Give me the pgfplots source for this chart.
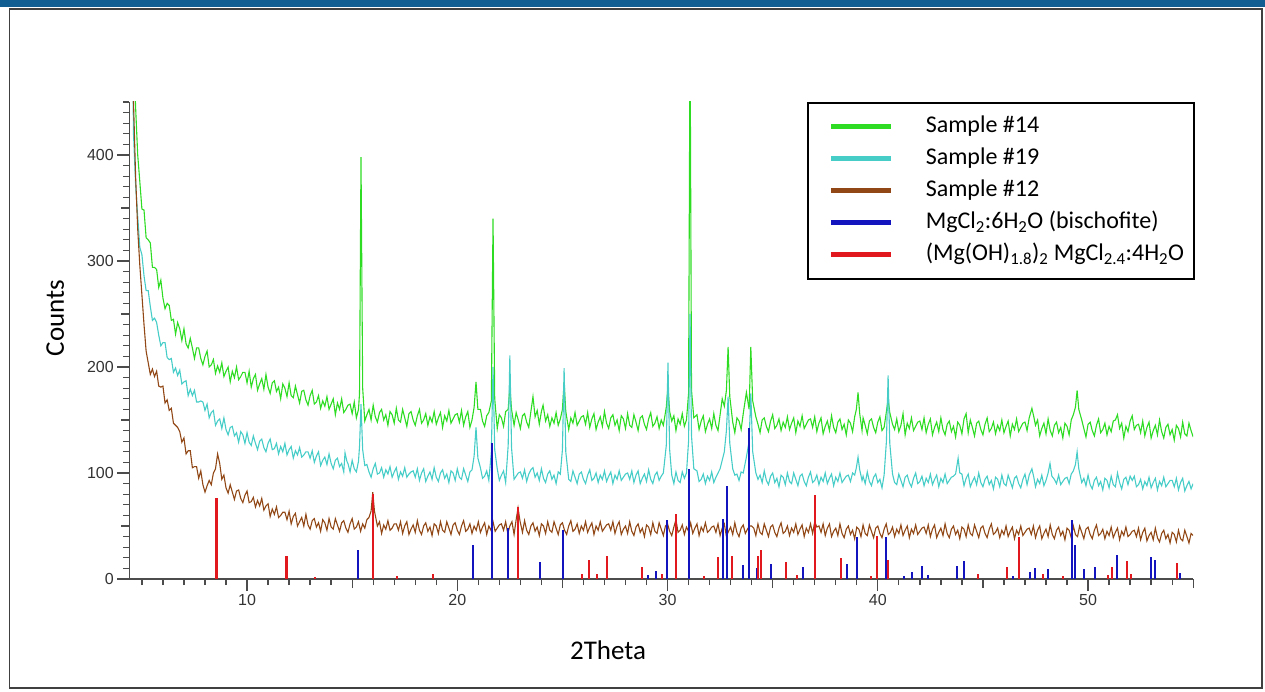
\documentclass[border=0pt]{standalone}
\usepackage{fontspec}
\setmainfont{Carlito}
\newfontfamily\tickfont{Liberation Sans}
\usepackage{pgfplots}
\pgfplotsset{compat=1.18}
\definecolor{cG}{RGB}{45,220,35}
\definecolor{cC}{RGB}{70,205,200}
\definecolor{cB}{RGB}{145,72,22}
\definecolor{cN}{RGB}{20,20,190}
\definecolor{cR}{RGB}{225,25,30}
\definecolor{band}{RGB}{16,94,146}
\begin{document}
\begin{tikzpicture}
\useasboundingbox (0pt,0pt) rectangle (1265pt,691pt);
\fill[band] (0pt,684pt) rectangle (1265pt,691pt);
\draw[black!75, line width=1.3pt] (9.5pt,3pt) rectangle (1262pt,682pt);
\begin{axis}[
  at={(129.3pt,112pt)}, anchor=south west,
  scale only axis, width=1063.9pt, height=477pt,
  xmin=4.4, xmax=55, ymin=0, ymax=450,
  axis x line*=bottom, axis y line*=left,
  axis line style={-, line width=1.5pt, draw=black!70},
  every tick/.style={black!70, line width=1.3pt},
  tick align=outside, major tick length=12pt, minor tick length=6pt,
  xtick={10,20,30,40,50}, ytick={0,100,200,300,400},
  minor xtick={5,6,...,55}, minor ytick={0,10,...,450},
  extra x ticks={15,25,35,45,55}, extra x tick labels={},
  extra x tick style={major tick length=9pt},
  extra y ticks={50,150,250,350}, extra y tick labels={},
  extra y tick style={major tick length=8pt},
  /pgf/number format/assume math mode=true,
  tick label style={font=\tickfont\fontsize{16}{18}\selectfont, text=black!80},
  xlabel={2Theta}, ylabel={Counts},
  every axis x label/.style={at={(rel axis cs:0.45,0)}, anchor=center, yshift=-71pt, font=\fontsize{27}{30}\selectfont},
  every axis y label/.style={at={(rel axis cs:0,0.547)}, xshift=-74pt, rotate=90, anchor=center, font=\fontsize{27}{30}\selectfont},
  legend cell align=left,
  legend style={at={(rel axis cs:0.637,1)}, anchor=north west, draw=black, line width=1.6pt,
    inner xsep=10pt, inner ysep=13pt, row sep=10pt, font=\fontsize{24}{27}\selectfont,
    nodes={inner sep=0pt, text height=17pt, text depth=5pt}},
  legend image code/.code={\path[draw=none] (-13pt,0pt) -- (95pt,0pt); \draw[#1, line width=5pt] (0pt,0pt) -- (60pt,0pt);},
]
% Sample #14
\addplot[cG, line width=1.1pt, mark=none] coordinates {
(4.5,700)(4.6,500)(4.7,445)(4.8,400)(4.9,375)(5.0,349)(5.1,348)(5.2,322)(5.3,320)(5.4,317)
(5.5,294)(5.6,294)(5.7,292)(5.8,275)(5.9,282)(6.0,265)(6.1,255)(6.2,260)(6.3,258)(6.4,244)
(6.5,245)(6.6,231)(6.7,242)(6.8,236)(6.9,225)(7.0,236)(7.1,222)(7.2,218)(7.3,227)(7.4,218)
(7.5,208)(7.6,218)(7.7,218)(7.8,208)(7.9,202)(8.0,210)(8.1,215)(8.2,200)(8.3,202)(8.4,207)
(8.5,194)(8.6,201)(8.7,195)(8.8,204)(8.9,191)(9.0,196)(9.1,200)(9.2,186)(9.3,196)(9.4,190)
(9.5,200)(9.6,188)(9.7,191)(9.8,195)(9.9,195)(10.0,185)(10.1,196)(10.2,181)(10.3,189)(10.4,193)
(10.5,178)(10.6,184)(10.7,189)(10.8,179)(10.9,193)(11.0,181)(11.1,175)(11.2,185)(11.3,187)(11.4,177)
(11.5,181)(11.6,170)(11.7,184)(11.8,180)(11.9,172)(12.0,185)(12.1,173)(12.2,171)(12.3,182)(12.4,174)
(12.5,166)(12.6,177)(12.7,178)(12.8,169)(12.9,164)(13.0,173)(13.1,178)(13.2,165)(13.3,167)(13.4,173)
(13.5,161)(13.6,168)(13.7,163)(13.8,172)(13.9,160)(14.0,165)(14.1,170)(14.2,155)(14.3,166)(14.4,160)
(14.5,170)(14.6,157)(14.7,160)(14.8,164)(14.9,165)(15.0,156)(15.1,167)(15.2,152)(15.3,160)(15.35,175)
(15.42,398)(15.5,180)(15.6,149)(15.7,155)(15.8,160)(15.9,150)(16.0,164)(16.1,153)(16.2,148)(16.3,157)
(16.4,160)(16.5,150)(16.6,155)(16.7,145)(16.8,158)(16.9,155)(17.0,147)(17.1,161)(17.2,150)(17.3,148)
(17.4,160)(17.5,152)(17.6,144)(17.7,156)(17.8,158)(17.9,150)(18.0,145)(18.1,154)(18.2,160)(18.3,147)
(18.4,150)(18.5,156)(18.6,145)(18.7,153)(18.8,148)(18.9,158)(19.0,146)(19.1,152)(19.2,157)(19.3,143)
(19.4,154)(19.5,149)(19.6,159)(19.7,147)(19.8,151)(19.9,155)(20.0,156)(20.1,148)(20.2,159)(20.3,145)
(20.4,153)(20.5,158)(20.6,143)(20.7,150)(20.8,162)(20.89,186)(20.98,160)(21.1,160)(21.2,149)(21.3,144)
(21.4,154)(21.5,157)(21.62,168)(21.70,340)(21.78,170)(21.9,142)(22.0,155)(22.1,152)(22.2,144)(22.3,158)
(22.42,160)(22.5,182)(22.58,160)(22.7,145)(22.8,157)(22.9,150)(23.0,142)(23.1,154)(23.2,156)(23.3,148)
(23.4,143)(23.5,158)(23.6,172)(23.7,153)(23.8,159)(23.9,146)(24.0,158)(24.08,164)(24.2,149)(24.3,155)
(24.4,144)(24.5,152)(24.6,147)(24.7,157)(24.8,145)(24.9,151)(25.0,160)(25.08,186)(25.16,158)(25.3,141)
(25.4,152)(25.5,147)(25.6,157)(25.7,145)(25.8,149)(25.9,153)(26.0,154)(26.1,146)(26.2,157)(26.3,143)
(26.4,151)(26.5,156)(26.6,141)(26.7,148)(26.8,153)(26.9,144)(27.0,158)(27.1,147)(27.2,142)(27.3,152)
(27.4,155)(27.5,145)(27.6,150)(27.7,140)(27.8,154)(27.9,151)(28.0,142)(28.1,156)(28.2,145)(28.3,143)
(28.4,155)(28.5,148)(28.6,140)(28.7,152)(28.8,154)(28.9,146)(29.0,141)(29.1,151)(29.2,157)(29.3,144)
(29.4,147)(29.5,153)(29.6,142)(29.7,150)(29.8,145)(29.94,162)(30.02,182)(30.1,158)(30.2,149)(30.3,154)
(30.4,140)(30.5,151)(30.6,146)(30.7,156)(30.8,144)(30.9,150)(31.0,175)(31.07,520)(31.14,178)(31.25,152)
(31.4,155)(31.5,141)(31.6,149)(31.7,154)(31.8,139)(31.9,146)(32.0,151)(32.1,142)(32.2,156)(32.3,145)
(32.4,140)(32.5,155)(32.6,170)(32.7,163)(32.8,178)(32.88,219)(32.96,172)(33.1,148)(33.2,138)(33.3,152)
(33.4,149)(33.5,141)(33.6,156)(33.75,176)(33.88,160)(33.96,219)(34.05,168)(34.2,153)(34.3,146)(34.4,138)
(34.5,150)(34.6,152)(34.7,144)(34.8,139)(34.9,149)(35.0,155)(35.1,142)(35.2,145)(35.3,151)(35.4,140)
(35.5,148)(35.6,143)(35.7,153)(35.8,141)(35.9,147)(36.0,152)(36.1,138)(36.2,149)(36.3,144)(36.4,154)
(36.5,142)(36.6,146)(36.7,150)(36.8,151)(36.9,143)(37.0,153)(37.1,139)(37.2,147)(37.3,152)(37.4,137)
(37.5,144)(37.6,149)(37.7,140)(37.8,154)(37.9,143)(38.0,138)(38.1,148)(38.2,151)(38.3,141)(38.4,146)
(38.5,136)(38.6,150)(38.7,147)(38.8,139)(38.9,153)(38.98,160)(39.06,176)(39.14,156)(39.25,140)(39.3,152)
(39.4,145)(39.5,137)(39.6,149)(39.7,151)(39.8,143)(39.9,138)(40.0,148)(40.1,153)(40.2,140)(40.3,143)
(40.41,158)(40.49,170)(40.57,157)(40.7,146)(40.8,141)(40.9,151)(41.0,139)(41.1,145)(41.2,156)(41.3,136)
(41.4,147)(41.5,142)(41.6,152)(41.7,140)(41.8,144)(41.9,148)(42.0,149)(42.1,141)(42.2,152)(42.3,138)
(42.4,146)(42.5,151)(42.6,136)(42.7,143)(42.8,148)(42.9,139)(43.0,152)(43.1,141)(43.2,136)(43.3,146)
(43.4,149)(43.5,139)(43.6,144)(43.7,134)(43.8,148)(43.9,145)(44.0,137)(44.1,151)(44.2,156)(44.3,138)
(44.4,150)(44.5,143)(44.6,135)(44.7,147)(44.8,149)(44.9,141)(45.0,136)(45.1,146)(45.2,152)(45.3,139)
(45.4,142)(45.5,148)(45.6,137)(45.7,145)(45.8,140)(45.9,150)(46.0,138)(46.1,144)(46.2,149)(46.3,135)
(46.4,146)(46.5,141)(46.6,151)(46.7,139)(46.8,143)(46.9,147)(47.0,148)(47.1,140)(47.2,152)(47.33,161)
(47.42,153)(47.5,145)(47.6,150)(47.7,135)(47.8,142)(47.9,147)(48.0,137)(48.1,151)(48.2,140)(48.3,135)
(48.4,145)(48.5,148)(48.6,138)(48.7,143)(48.8,133)(48.9,147)(49.0,144)(49.1,136)(49.2,150)(49.3,155)
(49.4,162)(49.48,178)(49.56,160)(49.7,150)(49.8,142)(49.9,134)(50.0,146)(50.1,148)(50.2,140)(50.3,135)
(50.4,145)(50.5,151)(50.6,138)(50.7,141)(50.8,147)(50.9,136)(51.0,144)(51.1,139)(51.2,149)(51.3,150)
(51.4,155)(51.5,142)(51.6,147)(51.7,133)(51.8,144)(51.9,139)(52.0,149)(52.1,154)(52.2,141)(52.3,145)
(52.4,146)(52.5,138)(52.6,149)(52.7,135)(52.8,143)(52.9,148)(53.0,133)(53.1,140)(53.2,145)(53.3,136)
(53.4,150)(53.5,139)(53.6,133)(53.7,143)(53.8,146)(53.9,136)(54.0,141)(54.1,131)(54.2,145)(54.3,142)
(54.4,134)(54.5,148)(54.6,137)(54.7,135)(54.8,147)(54.9,140)(55.0,134)
};
\addlegendentry{Sample \#14}
% Sample #19
\addplot[cC, line width=1.1pt, mark=none] coordinates {
(4.5,600)(4.6,420)(4.7,372)(4.8,342)(4.9,313)(5.0,306)(5.1,286)(5.2,272)(5.3,272)(5.4,257)
(5.5,244)(5.6,246)(5.7,242)(5.8,230)(5.9,220)(6.0,223)(6.1,223)(6.2,209)(6.3,207)(6.4,208)
(6.5,195)(6.6,199)(6.7,192)(6.8,197)(6.9,184)(7.0,186)(7.1,187)(7.2,173)(7.3,179)(7.4,173)
(7.5,178)(7.6,167)(7.7,167)(7.8,168)(7.9,167)(8.0,159)(8.1,165)(8.2,152)(8.3,157)(8.4,159)
(8.5,145)(8.6,149)(8.7,151)(8.8,142)(8.9,152)(9.0,141)(9.1,136)(9.2,143)(9.3,144)(9.4,135)
(9.5,138)(9.6,129)(9.7,139)(9.8,136)(9.9,128)(10.0,138)(10.1,129)(10.2,126)(10.3,135)(10.4,128)
(10.5,122)(10.6,130)(10.7,132)(10.8,124)(10.9,120)(11.0,128)(11.1,132)(11.2,122)(11.3,123)(11.4,128)
(11.5,118)(11.6,125)(11.7,120)(11.8,128)(11.9,117)(12.0,122)(12.1,125)(12.2,114)(12.3,121)(12.4,117)
(12.5,124)(12.6,115)(12.7,117)(12.8,120)(12.9,120)(13.0,114)(13.1,121)(13.2,110)(13.3,116)(13.4,120)
(13.5,107)(13.6,112)(13.7,115)(13.8,108)(13.9,118)(14.0,109)(14.1,104)(14.2,112)(14.3,114)(14.4,106)
(14.5,109)(14.6,101)(14.66,119)(14.75,111)(14.8,109)(14.9,101)(15.0,112)(15.1,104)(15.2,101)(15.3,111)
(15.35,125)(15.42,165)(15.5,122)(15.6,107)(15.7,108)(15.8,101)(15.9,96)(16.0,104)(16.1,109)(16.2,99)
(16.3,100)(16.4,105)(16.5,96)(16.6,103)(16.7,99)(16.8,106)(16.9,96)(17.0,101)(17.1,105)(17.2,94)
(17.3,101)(17.4,97)(17.5,105)(17.6,96)(17.7,99)(17.8,101)(17.9,102)(18.0,96)(18.1,104)(18.2,93)
(18.3,100)(18.4,104)(18.5,92)(18.6,97)(18.7,101)(18.8,94)(18.9,105)(19.0,96)(19.1,92)(19.2,100)
(19.3,103)(19.4,95)(19.5,99)(19.6,91)(19.7,102)(19.8,100)(19.9,93)(20.0,104)(20.1,96)(20.2,94)
(20.3,104)(20.4,98)(20.5,92)(20.6,101)(20.7,103)(20.8,116)(20.89,143)(20.98,114)(21.1,105)(21.2,95)
(21.3,97)(21.4,102)(21.5,93)(21.62,120)(21.70,200)(21.78,122)(21.9,104)(22.0,93)(22.1,98)(22.2,102)
(22.3,91)(22.42,126)(22.5,211)(22.58,124)(22.7,94)(22.8,97)(22.9,100)(23.0,101)(23.1,95)(23.2,103)
(23.3,92)(23.4,99)(23.5,103)(23.6,105)(23.7,96)(23.8,100)(23.9,93)(24.0,104)(24.1,95)(24.2,91)
(24.3,99)(24.4,102)(24.5,94)(24.6,98)(24.7,90)(24.8,101)(24.9,99)(25.0,122)(25.08,199)(25.16,120)
(25.3,94)(25.4,92)(25.5,102)(25.6,96)(25.7,90)(25.8,99)(25.9,101)(26.0,94)(26.1,90)(26.2,98)
(26.3,103)(26.4,93)(26.5,95)(26.6,100)(26.7,91)(26.8,98)(26.9,94)(27.0,102)(27.1,92)(27.2,97)
(27.3,101)(27.4,90)(27.5,98)(27.6,94)(27.7,102)(27.8,93)(27.9,96)(28.0,99)(28.1,100)(28.2,94)
(28.3,102)(28.4,91)(28.5,98)(28.6,102)(28.7,90)(28.8,95)(28.9,99)(29.0,92)(29.1,103)(29.2,94)
(29.3,90)(29.4,98)(29.5,101)(29.6,93)(29.7,97)(29.8,100)(29.94,126)(30.02,204)(30.1,122)(30.2,98)
(30.3,90)(30.4,101)(30.5,93)(30.6,91)(30.7,101)(30.8,95)(30.9,100)(31.0,130)(31.07,250)(31.14,135)
(31.25,104)(31.4,102)(31.5,92)(31.6,94)(31.7,99)(31.8,90)(31.9,97)(32.0,93)(32.1,101)(32.2,91)
(32.3,96)(32.4,100)(32.5,104)(32.6,112)(32.7,120)(32.8,140)(32.88,172)(32.96,128)(33.1,104)(33.2,98)
(33.3,99)(33.4,93)(33.5,101)(33.6,100)(33.75,115)(33.88,130)(33.96,175)(34.05,120)(34.2,100)(34.3,94)
(34.4,98)(34.5,91)(34.6,102)(34.7,93)(34.8,89)(34.9,97)(35.0,100)(35.1,91)(35.2,95)(35.3,87)
(35.4,98)(35.5,96)(35.6,89)(35.7,100)(35.8,92)(35.9,90)(36.0,100)(36.1,94)(36.2,88)(36.3,97)
(36.4,99)(36.5,92)(36.6,88)(36.7,96)(36.8,101)(36.9,91)(37.0,93)(37.1,98)(37.2,89)(37.3,96)
(37.4,92)(37.5,100)(37.6,90)(37.7,95)(37.8,99)(37.9,88)(38.0,96)(38.1,92)(38.2,100)(38.3,91)
(38.4,94)(38.5,97)(38.6,98)(38.7,92)(38.8,100)(38.9,98)(38.98,105)(39.06,115)(39.14,103)(39.25,93)
(39.3,97)(39.4,90)(39.5,101)(39.6,92)(39.7,88)(39.8,96)(39.9,99)(40.0,91)(40.1,94)(40.2,86)
(40.3,98)(40.41,130)(40.49,192)(40.57,128)(40.7,99)(40.8,91)(40.9,89)(41.0,99)(41.1,93)(41.2,87)
(41.3,96)(41.4,98)(41.5,91)(41.6,87)(41.7,95)(41.8,100)(41.9,90)(42.0,92)(42.1,97)(42.2,88)
(42.3,95)(42.4,91)(42.5,99)(42.6,89)(42.7,94)(42.8,98)(42.9,87)(43.0,95)(43.1,91)(43.2,99)
(43.3,90)(43.4,93)(43.5,96)(43.6,97)(43.7,99)(43.82,114)(43.9,100)(44.0,99)(44.1,88)(44.2,95)
(44.3,99)(44.4,87)(44.5,92)(44.6,96)(44.7,89)(44.8,100)(44.9,91)(45.0,87)(45.1,94)(45.2,97)
(45.3,89)(45.4,93)(45.5,85)(45.6,96)(45.7,94)(45.8,87)(45.9,98)(46.0,90)(46.1,88)(46.2,98)
(46.3,92)(46.4,86)(46.5,95)(46.6,97)(46.7,90)(46.8,86)(46.9,94)(47.0,99)(47.1,89)(47.2,98)
(47.33,104)(47.42,96)(47.5,87)(47.6,94)(47.7,90)(47.8,98)(47.9,88)(48.0,93)(48.1,100)(48.19,109)
(48.28,97)(48.4,94)(48.5,90)(48.6,98)(48.7,89)(48.8,92)(48.9,95)(49.0,96)(49.1,90)(49.2,99)
(49.3,102)(49.4,108)(49.48,120)(49.56,104)(49.7,91)(49.8,95)(49.9,88)(50.0,98)(50.1,89)(50.2,85)
(50.3,93)(50.4,96)(50.5,88)(50.6,92)(50.7,84)(50.8,95)(50.9,93)(51.0,86)(51.1,97)(51.2,89)
(51.3,87)(51.4,100)(51.5,91)(51.6,85)(51.7,94)(51.8,96)(51.9,89)(52.0,97)(52.1,93)(52.2,97)
(52.3,87)(52.4,89)(52.5,94)(52.6,85)(52.7,92)(52.8,88)(52.9,96)(53.0,86)(53.1,91)(53.2,95)
(53.3,84)(53.4,92)(53.5,88)(53.6,96)(53.7,87)(53.8,90)(53.9,93)(54.0,93)(54.1,87)(54.2,95)
(54.3,84)(54.4,91)(54.5,95)(54.6,83)(54.7,88)(54.8,92)(54.9,85)(55.0,90)
};
\addlegendentry{Sample \#19}
% Sample #12
\addplot[cB, line width=1.1pt, mark=none] coordinates {
(4.5,620)(4.6,450)(4.7,380)(4.8,330)(4.9,296)(5.0,268)(5.1,240)(5.2,215)(5.3,204)(5.4,193)
(5.5,198)(5.6,191)(5.7,196)(5.8,182)(5.9,181)(6.0,182)(6.1,166)(6.2,169)(6.3,159)(6.4,161)
(6.5,147)(6.6,145)(6.7,143)(6.8,139)(6.9,129)(7.0,133)(7.1,118)(7.2,121)(7.3,121)(7.4,105)
(7.5,106)(7.6,106)(7.7,95)(7.8,102)(7.9,89)(8.0,82)(8.1,88)(8.2,93)(8.3,89)(8.4,100)
(8.5,104)(8.6,118)(8.7,109)(8.8,94)(8.9,98)(9.0,86)(9.1,81)(9.2,89)(9.3,82)(9.4,75)
(9.5,83)(9.6,84)(9.7,76)(9.8,72)(9.9,79)(10.0,83)(10.1,72)(10.2,73)(10.3,77)(10.4,68)
(10.5,74)(10.6,69)(10.7,76)(10.8,65)(10.9,69)(11.0,71)(11.1,59)(11.2,66)(11.3,61)(11.4,68)
(11.5,58)(11.6,60)(11.7,63)(11.8,63)(11.9,56)(12.0,64)(12.1,52)(12.2,59)(12.3,62)(12.4,50)
(12.5,54)(12.6,58)(12.7,50)(12.8,61)(12.9,51)(13.0,47)(13.1,55)(13.2,57)(13.3,49)(13.4,53)
(13.5,45)(13.6,56)(13.7,53)(13.8,46)(13.9,57)(14.0,49)(14.1,47)(14.2,57)(14.3,51)(14.4,45)
(14.5,53)(14.6,55)(14.7,48)(14.8,44)(14.9,52)(15.0,57)(15.1,47)(15.2,49)(15.3,54)(15.4,45)
(15.5,52)(15.6,48)(15.7,56)(15.8,58)(15.9,64)(15.98,82)(16.06,64)(16.2,50)(16.3,54)(16.4,43)
(16.5,51)(16.6,47)(16.7,55)(16.8,46)(16.9,48)(17.0,52)(17.1,52)(17.2,46)(17.3,54)(17.4,43)
(17.5,50)(17.6,54)(17.7,42)(17.8,47)(17.9,51)(18.0,44)(18.1,55)(18.2,46)(18.3,42)(18.4,50)
(18.5,53)(18.6,45)(18.7,49)(18.8,41)(18.9,52)(19.0,50)(19.1,43)(19.2,54)(19.3,46)(19.4,44)
(19.5,54)(19.6,48)(19.7,42)(19.8,51)(19.9,53)(20.0,46)(20.1,42)(20.2,50)(20.3,55)(20.4,45)
(20.5,47)(20.6,52)(20.7,43)(20.8,50)(20.9,46)(21.0,54)(21.1,44)(21.2,49)(21.3,53)(21.4,42)
(21.5,50)(21.6,46)(21.7,54)(21.8,45)(21.9,48)(22.0,51)(22.1,52)(22.2,46)(22.3,54)(22.4,43)
(22.5,50)(22.6,54)(22.7,42)(22.8,56)(22.89,67)(22.98,55)(23.1,44)(23.2,55)(23.3,46)(23.4,42)
(23.5,50)(23.6,53)(23.7,45)(23.8,49)(23.9,41)(24.0,52)(24.1,50)(24.2,43)(24.3,54)(24.4,46)
(24.5,44)(24.6,54)(24.7,48)(24.8,42)(24.9,51)(25.0,53)(25.1,46)(25.2,42)(25.3,50)(25.4,55)
(25.5,45)(25.6,47)(25.7,52)(25.8,43)(25.9,50)(26.0,46)(26.1,54)(26.2,44)(26.3,49)(26.4,53)
(26.5,42)(26.6,50)(26.7,46)(26.8,54)(26.9,45)(27.0,48)(27.1,51)(27.2,52)(27.3,46)(27.4,54)
(27.5,43)(27.6,50)(27.7,54)(27.8,42)(27.9,47)(28.0,50)(28.1,43)(28.2,54)(28.3,45)(28.4,41)
(28.5,49)(28.6,52)(28.7,44)(28.8,48)(28.9,40)(29.0,51)(29.1,49)(29.2,42)(29.3,53)(29.4,45)
(29.5,43)(29.6,53)(29.7,47)(29.8,41)(29.9,50)(30.0,52)(30.1,45)(30.2,41)(30.3,49)(30.4,56)
(30.5,44)(30.6,46)(30.7,51)(30.8,42)(30.9,49)(31.0,45)(31.1,53)(31.2,43)(31.3,48)(31.4,52)
(31.5,41)(31.6,49)(31.7,45)(31.8,53)(31.9,44)(32.0,46)(32.1,49)(32.2,50)(32.3,44)(32.4,52)
(32.5,41)(32.6,48)(32.7,52)(32.8,40)(32.9,45)(33.0,49)(33.1,42)(33.2,53)(33.3,44)(33.4,40)
(33.5,48)(33.6,51)(33.7,43)(33.8,47)(33.9,50)(34.0,50)(34.1,48)(34.2,41)(34.3,52)(34.4,44)
(34.5,42)(34.6,52)(34.7,46)(34.8,40)(34.9,49)(35.0,51)(35.1,44)(35.2,40)(35.3,48)(35.4,53)
(35.5,43)(35.6,45)(35.7,50)(35.8,41)(35.9,48)(36.0,44)(36.1,52)(36.2,42)(36.3,47)(36.4,51)
(36.5,40)(36.6,48)(36.7,44)(36.8,52)(36.9,43)(37.0,54)(37.1,49)(37.2,50)(37.3,44)(37.4,52)
(37.5,41)(37.6,48)(37.7,52)(37.8,40)(37.9,45)(38.0,48)(38.1,41)(38.2,52)(38.3,43)(38.4,39)
(38.5,47)(38.6,50)(38.7,42)(38.8,46)(38.9,38)(39.0,49)(39.1,47)(39.2,40)(39.3,51)(39.4,43)
(39.5,41)(39.6,51)(39.7,45)(39.8,39)(39.9,48)(40.0,50)(40.1,43)(40.2,39)(40.3,47)(40.4,52)
(40.5,42)(40.6,44)(40.7,49)(40.8,40)(40.9,47)(41.0,43)(41.1,51)(41.2,41)(41.3,46)(41.4,50)
(41.5,39)(41.6,47)(41.7,43)(41.8,51)(41.9,42)(42.0,45)(42.1,48)(42.2,49)(42.3,43)(42.4,51)
(42.5,40)(42.6,47)(42.7,51)(42.8,39)(42.9,44)(43.0,48)(43.1,41)(43.2,52)(43.3,43)(43.4,39)
(43.5,47)(43.6,50)(43.7,42)(43.8,46)(43.9,38)(44.0,49)(44.1,47)(44.2,40)(44.3,51)(44.4,43)
(44.5,41)(44.6,51)(44.7,45)(44.8,39)(44.9,48)(45.0,50)(45.1,43)(45.2,39)(45.3,47)(45.4,52)
(45.5,42)(45.6,44)(45.7,48)(45.8,39)(45.9,46)(46.0,42)(46.1,50)(46.2,40)(46.3,45)(46.4,49)
(46.5,38)(46.6,46)(46.7,42)(46.8,50)(46.9,41)(47.0,44)(47.1,47)(47.2,48)(47.3,42)(47.4,50)
(47.5,39)(47.6,46)(47.7,50)(47.8,38)(47.9,43)(48.0,47)(48.1,40)(48.2,51)(48.3,42)(48.4,38)
(48.5,46)(48.6,49)(48.7,41)(48.8,45)(48.9,37)(49.0,48)(49.1,46)(49.2,39)(49.3,50)(49.4,42)
(49.5,40)(49.6,50)(49.7,44)(49.8,38)(49.9,47)(50.0,49)(50.1,42)(50.2,38)(50.3,46)(50.4,51)
(50.5,41)(50.6,43)(50.7,47)(50.8,38)(50.9,45)(51.0,41)(51.1,49)(51.2,39)(51.3,44)(51.4,48)
(51.5,37)(51.6,45)(51.7,41)(51.8,49)(51.9,40)(52.0,42)(52.1,45)(52.2,46)(52.3,40)(52.4,48)
(52.5,37)(52.6,44)(52.7,48)(52.8,36)(52.9,41)(53.0,44)(53.1,37)(53.2,48)(53.3,39)(53.4,35)
(53.5,43)(53.6,46)(53.7,38)(53.8,42)(53.9,34)(54.0,44)(54.1,42)(54.2,35)(54.3,46)(54.4,38)
(54.5,36)(54.6,46)(54.7,40)(54.8,34)(54.9,43)(55.0,41)
};
\addlegendentry{Sample \#12}
% bischofite sticks
\addplot[ycomb, cN, line width=2.6pt, mark=none] coordinates {
(15.28,27)(20.75,32)(21.65,128)(22.41,48)(23.94,16)(25.03,46)(29.07,4)(29.45,8)(29.98,56)(31.02,104)
(32.64,57)(32.83,88)(33.59,13)(33.88,142)(34.26,10)(34.92,14)(36.44,11)(38.54,14)(39.01,40)(40.39,40)
(41.25,3)(41.63,7)(42.10,12)(42.39,4)(43.77,12)(44.10,17)(46.43,3)(47.24,7)(47.48,10)(48.10,9)
(49.24,56)(49.38,32)(49.81,9)(50.33,11)(51.38,23)(53.00,21)(53.19,18)(54.37,6)
};
\addlegendentry{MgCl\textsubscript{2}:6H\textsubscript{2}O (bischofite)}
% (Mg(OH)1.8)2 MgCl2.4:4H2O sticks
\addplot[ycomb, cR, line width=2.6pt, mark=none] coordinates {
(8.56,76)(11.89,22)(13.23,2)(15.99,80)(17.13,3)(18.85,5)(22.89,68)(25.93,5)(26.27,18)(26.65,5)
(27.12,22)(28.79,11)(29.74,5)(30.40,61)(31.74,3)(32.40,21)(33.07,22)(34.30,22)(34.45,27)(35.64,16)
(36.16,4)(37.02,79)(38.25,20)(39.68,3)(39.96,41)(40.49,18)(44.77,5)(46.15,11)(46.72,40)(47.86,5)
(48.81,3)(50.95,4)(51.14,11)(51.85,17)(52.04,5)(54.23,15)
};
\addlegendentry{(Mg(OH)\textsubscript{1.8})\textsubscript{2} MgCl\textsubscript{2.4}:4H\textsubscript{2}O}
\end{axis}
\end{tikzpicture}
\end{document}
